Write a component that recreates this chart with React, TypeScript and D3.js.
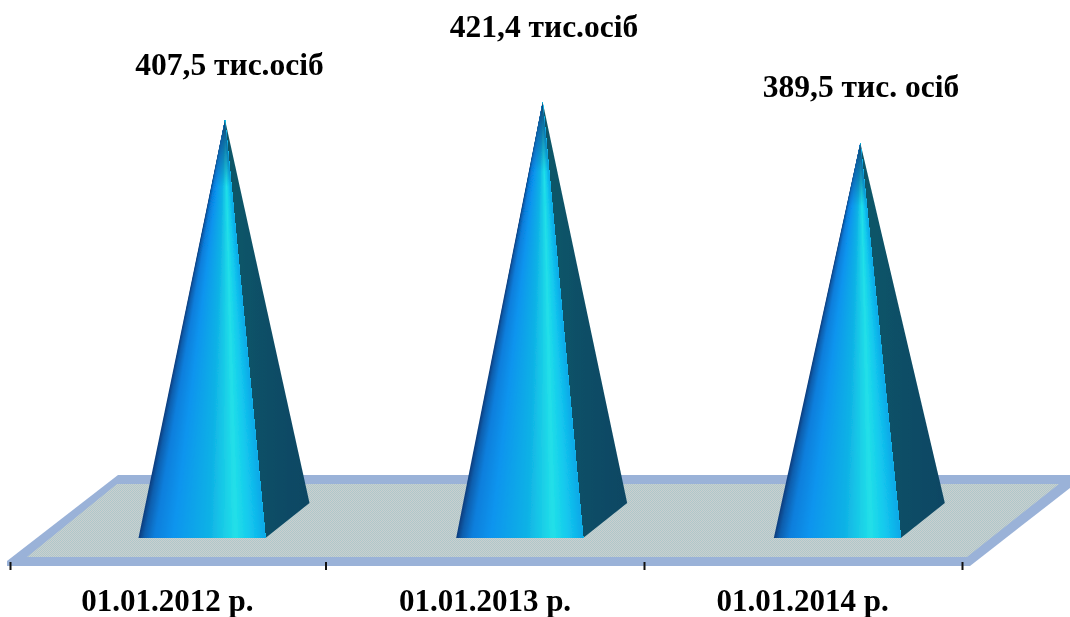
import React from "react";
import * as d3 from "d3";

const categories = ["01.01.2012 р.", "01.01.2013 р.", "01.01.2014 р."];
const values = [407.5, 421.4, 389.5];
const valueLabels = ["407,5 тис.осіб", "421,4 тис.осіб", "389,5 тис. осіб"];
const labelXs = [229.5, 544, 861];
const labelYs = [75, 37, 97];

const W = 1070, H = 617;
const x = d3.scaleBand<string>().domain(categories).range([9.5, 962.5]);
const y = d3.scaleLinear().domain([82, 421.4]).range([538, 102]);
const line = d3.line();
const poly = (pts: [number, number][]) => line(pts)! + "Z";
const font = "'Liberation Serif','Times New Roman',serif";

// front face colour across its width; painted left to right, converging on the apex
const shade = d3
  .scaleLinear<string>()
  .domain([0, 0.04, 0.12, 0.27, 0.55, 0.76, 0.88, 1])
  .range(["#0a3f80", "#0a5fae", "#0a7fdc", "#0a95ee", "#10b2e6", "#22e0e8", "#14c8ee", "#0ea8e8"]);
const wedgeSteps = d3.range(0, 1, 1 / 127);
const tickNudge = [0.5, -1, -0.5];

export default function App() {
  return (
    <svg width={W} height={H} style={{ position: "absolute", left: 0, top: 0, background: "#fff" }} fontFamily={font}>
      <defs>
        <pattern id="hatch" width="2" height="2" patternUnits="userSpaceOnUse">
          <rect width="2" height="2" fill="#cbcfcf" />
          <rect width="1" height="1" fill="#aec8ca" />
          <rect x="1" y="1" width="1" height="1" fill="#aec8ca" />
        </pattern>
        <linearGradient id="side" x1="0" x2="1" y1="0" y2="0">
          <stop offset="0" stopColor="#0c5868" />
          <stop offset="0.5" stopColor="#0c4e66" />
          <stop offset="1" stopColor="#0b4664" />
        </linearGradient>
        <linearGradient id="tip" x1="0" x2="0" y1="0" y2="1">
          <stop offset="0" stopColor="#12406a" stopOpacity="1" />
          <stop offset="0.05" stopColor="#0f5a92" stopOpacity="0.8" />
          <stop offset="0.16" stopColor="#0f5a92" stopOpacity="0" />
        </linearGradient>
        <filter id="soft" x="-5%" y="-5%" width="110%" height="110%">
          <feGaussianBlur stdDeviation="0.55" />
        </filter>
        <filter id="softText" x="-5%" y="-10%" width="110%" height="120%">
          <feGaussianBlur stdDeviation="0.3" />
        </filter>
      </defs>
      <path d={poly([[7, 561], [118, 475], [1070, 475], [1070, 488], [970, 566], [7, 566]])} fill="#9ab2d8" />
      <path d={poly([[27, 557], [117, 484], [1059, 484], [967, 557]])} fill="url(#hatch)" />
      {categories.map((c, i) => {
        const x0 = x(c)!;
        const top = y(values[i]);
        const L = x0 + 129, R = x0 + 256, B = x0 + 300, A = x0 + 215.5;
        const tickX = Math.round(x0) + tickNudge[i];
        const w = R - L;
        return (
          <g key={c}>
            <g filter="url(#soft)">
              <path d={poly([[R, 538], [B, 503], [A, top]])} fill="url(#side)" />
              {wedgeSteps.map((t) => (
                <path key={t} d={poly([[L + t * w, 538], [R, 538], [A, top]])} fill={shade(t)} />
              ))}
              <path d={poly([[L, 538], [R, 538], [A, top]])} fill="url(#tip)" />
            </g>
            <g filter="url(#softText)">
              <text x={x0 + x.bandwidth() / 2 - 1} y={610.5} textAnchor="middle" fontSize={31} fontWeight="bold" fill="#000">{c}</text>
              <text x={labelXs[i]} y={labelYs[i]} textAnchor="middle" fontSize={31.5} fontWeight="bold" fill="#000">{valueLabels[i]}</text>
            </g>
            <line x1={tickX} x2={tickX} y1={562} y2={570} stroke="#111" strokeWidth={2} />
          </g>
        );
      })}
      <line x1={962.5} x2={962.5} y1={562} y2={570} stroke="#111" strokeWidth={2} />
    </svg>
  );
}
